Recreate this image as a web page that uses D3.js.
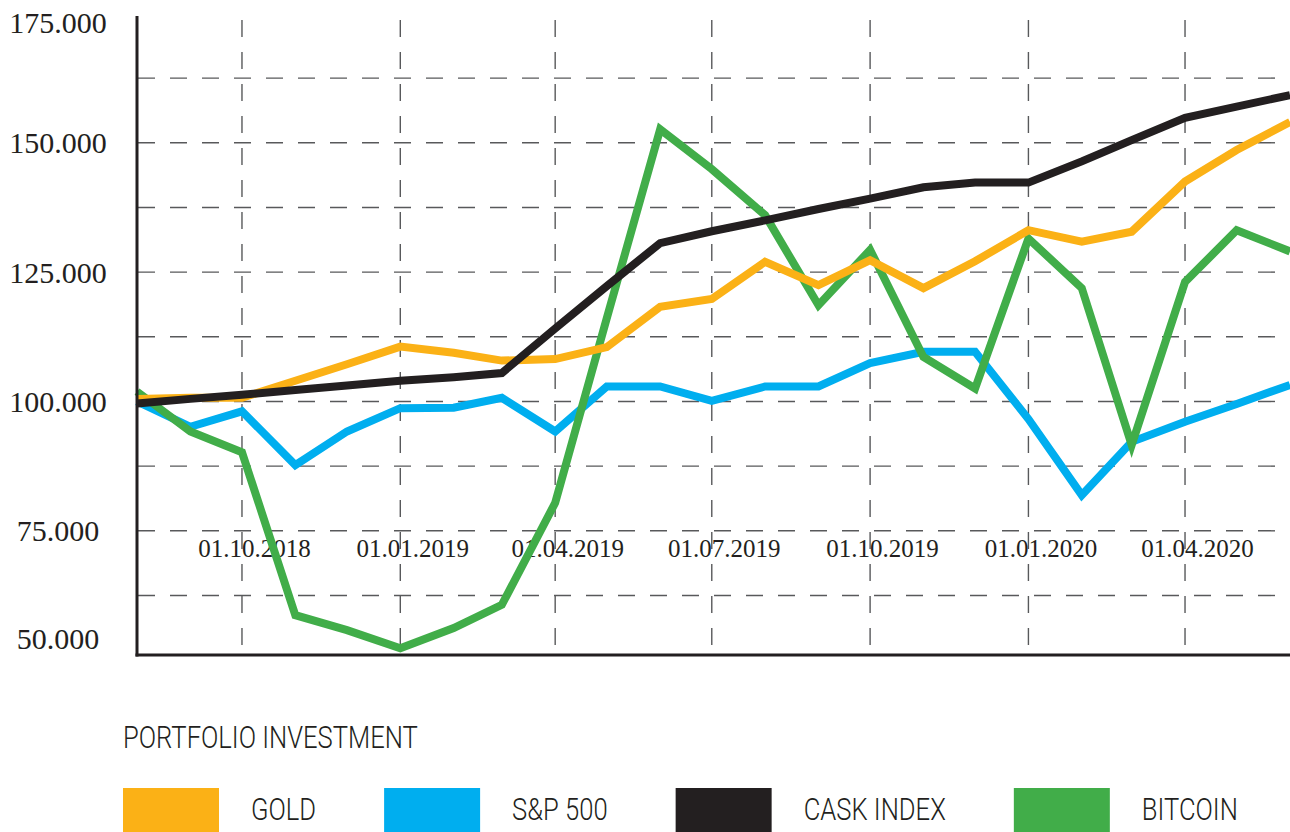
<!DOCTYPE html>
<html>
<head>
<meta charset="utf-8">
<script src="https://cdn.jsdelivr.net/npm/d3@7"></script>
<style>
  html, body { margin: 0; padding: 0; background: #fff; }
  svg { display: block; }
</style>
</head>
<body>
<svg id="chart"></svg>
<script>
// monthly observations
const dates = [
  '2018-08-01', '2018-09-01', '2018-10-01', '2018-11-01', '2018-12-01',
  '2019-01-01', '2019-02-01', '2019-03-01', '2019-04-01', '2019-05-01',
  '2019-06-01', '2019-07-01', '2019-08-01', '2019-09-01', '2019-10-01',
  '2019-11-01', '2019-12-01', '2020-01-01', '2020-02-01', '2020-03-01',
  '2020-04-01', '2020-05-01', '2020-06-01'
]

const gold = [
  100500, 100700, 100700, 104000, 107200, 110600, 109400, 107900, 108200, 110500,
  118300, 119800, 127000, 122500, 127300, 121900, 127100, 133100, 130900, 132800,
  142500, 148600, 154000
]
const sp500 = [
  100000, 95100, 98100, 87700, 94200, 98700, 98800, 100700, 94200, 102900,
  102900, 100100, 102900, 102900, 107400, 109600, 109600, 96600, 81900, 92200,
  96100, 99500, 103200
]
const cask = [
  99600, 100500, 101300, 102200, 103100, 104000, 104700, 105500, 114100, 122300,
  130600, 132900, 135000, 137200, 139200, 141400, 142300, 142300, 146400, 150500,
  154800, 157000, 159200
]
const bitcoin = [
  101900, 94200, 90200, 58700, 55800, 52300, 56200, 60700, 80400, 116100,
  152600, 144900, 136000, 118600, 129300, 108600, 102500, 131500, 121900, 91600,
  123100, 133100, 129000
]

const seriesNames = ['GOLD', 'S&P 500', 'CASK INDEX', 'BITCOIN']
const seriesColors = ['#FBB116', '#00AEEF', '#231F20', '#41AD49']
const yTickValues = [175000, 150000, 125000, 100000, 75000, 50000]
const gridValues = [62500, 75000, 87500, 100000, 112500, 125000, 137500, 150000, 162500]
const legendTitle = 'PORTFOLIO INVESTMENT'

const W = 1290, H = 832
const plot = {left: 137, right: 1290, top: 16, bottom: 655}
const ink = '#231F20'
const narrow = 0.8

const parse = d3.timeParse('%Y-%m-%d')
const dateValues = dates.map(parse)
const allSeries = [gold, sp500, cask, bitcoin]

const svg = d3.select('#chart')
  .attr('width', W)
  .attr('height', H)

const x = d3.scaleTime()
  .domain(d3.extent(dateValues))
  .range([plot.left, plot.right])

const y = d3.scaleLinear()
  .domain([51000, 174500])
  .range([plot.bottom, plot.top])

// grid
const grid = svg.append('g').attr('id', 'grid')
  .attr('stroke', '#58595B')
  .attr('stroke-width', 1.4)
  .attr('stroke-dasharray', '17,15')

grid.selectAll('.hgrid')
  .data(gridValues)
  .join('line')
  .attr('class', 'hgrid')
  .attr('x1', plot.left + 1)
  .attr('x2', plot.right)
  .attr('y1', d => y(d))
  .attr('y2', d => y(d))

const quarterTicks = x.ticks(d3.timeMonth.every(3))

grid.selectAll('.vgrid')
  .data(quarterTicks)
  .join('line')
  .attr('class', 'vgrid')
  .attr('x1', d => x(d))
  .attr('x2', d => x(d))
  .attr('y1', plot.top + 4)
  .attr('y2', plot.bottom)

// x labels sit inside the plot
const xAxis = d3.axisBottom(x)
  .tickValues(quarterTicks)
  .tickFormat(d3.timeFormat('%d.%m.%Y'))
  .tickSize(0)

const xAxisG = svg.append('g')
  .attr('id', 'x-axis')
  .attr('transform', 'translate(0,548)')
  .call(xAxis)
xAxisG.select('.domain').remove()
xAxisG.selectAll('text')
  .attr('y', 0)
  .attr('dy', '0.35em')
  .attr('dx', 12)
  .attr('font-family', '"Liberation Serif", "DejaVu Serif", serif')
  .attr('font-size', '25px')
  .attr('fill', ink)

// y labels
const locale = d3.formatLocale({decimal: ',', thousands: '.', grouping: [3], currency: ['', '']})
const yAxis = d3.axisLeft(y)
  .tickValues(yTickValues)
  .tickFormat(locale.format(','))
  .tickSize(0)

const yAxisG = svg.append('g')
  .attr('id', 'y-axis')
  .attr('transform', 'translate(58,0)')
  .call(yAxis)
yAxisG.select('.domain').remove()
yAxisG.selectAll('.tick')
  .attr('transform', d => `translate(0,${Math.max(22, Math.min(638, y(d)))})`)
yAxisG.selectAll('text')
  .attr('x', 0)
  .attr('dy', '0.35em')
  .attr('text-anchor', 'middle')
  .attr('font-family', '"Liberation Serif", "DejaVu Serif", serif')
  .attr('font-size', '30px')
  .attr('fill', ink)

// lines
const line = d3.line()
  .x((d, i) => x(dateValues[i]))
  .y(d => y(d))

const drawOrder = [1, 3, 0, 2]
svg.append('g').attr('id', 'lines')
  .selectAll('path')
  .data(drawOrder)
  .join('path')
  .attr('fill', 'none')
  .attr('stroke', k => seriesColors[k])
  .attr('stroke-width', 8)
  .attr('stroke-linejoin', 'miter')
  .attr('d', k => line(allSeries[k]))

// axis lines
svg.append('line')
  .attr('x1', plot.left).attr('x2', plot.left)
  .attr('y1', plot.top).attr('y2', plot.bottom + 1.5)
  .attr('stroke', ink).attr('stroke-width', 3)
svg.append('line')
  .attr('x1', plot.left - 1.5).attr('x2', plot.right)
  .attr('y1', plot.bottom).attr('y2', plot.bottom)
  .attr('stroke', ink).attr('stroke-width', 3)

// legend
const sansText = (g, str, tx, ty) => g.append('text')
  .attr('transform', `translate(${tx},${ty}) scale(${narrow},1)`)
  .attr('font-family', 'Roboto, "Noto Sans", sans-serif')
  .attr('font-weight', 300)
  .attr('font-size', '32px')
  .attr('fill', ink)
  .text(str)

const legend = svg.append('g').attr('id', 'legend')
sansText(legend, legendTitle, 123, 748)

let lx = 123
seriesNames.forEach((name, i) => {
  legend.append('rect')
    .attr('x', lx)
    .attr('y', 788)
    .attr('width', 96)
    .attr('height', 50)
    .attr('fill', seriesColors[i])
  const t = sansText(legend, name, lx + 128, 820)
  lx += 128 + t.node().getBBox().width * narrow + 68
})
</script>
</body>
</html>
